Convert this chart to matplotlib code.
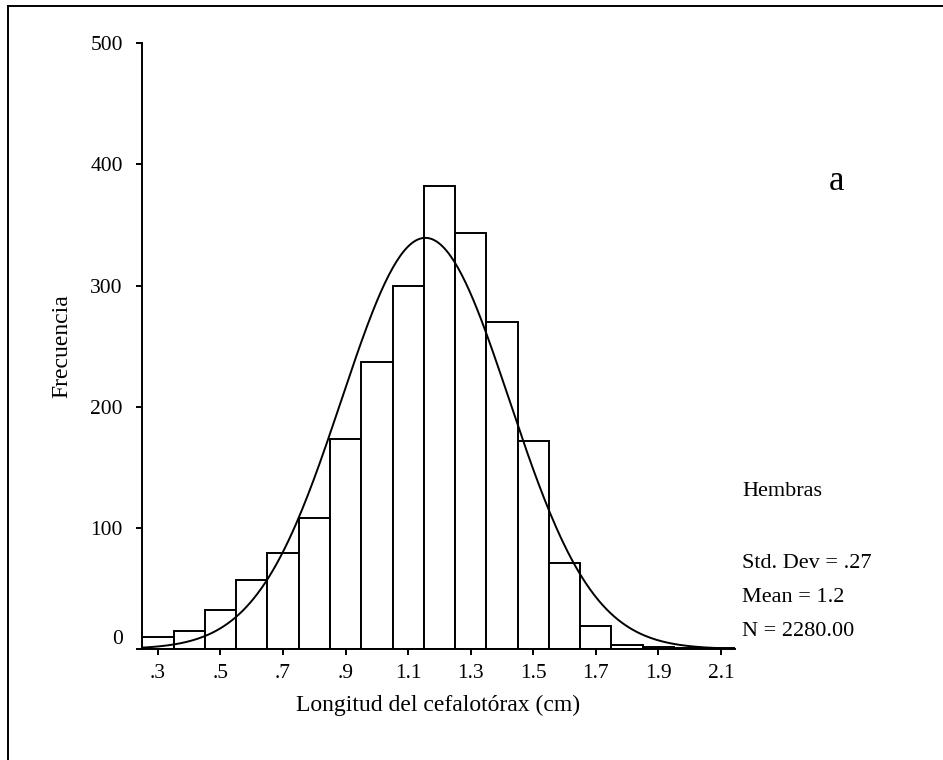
import numpy as np
import matplotlib.pyplot as plt
from matplotlib.lines import Line2D

plt.rcParams["font.family"] = ["Liberation Serif", "DejaVu Serif"]

# Histogram bins (class midpoints, cm) and counts
bin_centers = [0.3, 0.4, 0.5, 0.6, 0.7, 0.8, 0.9, 1.0, 1.1, 1.2,
               1.3, 1.4, 1.5, 1.6, 1.7, 1.8, 1.9, 2.0, 2.1]
counts = [10, 15, 32, 57, 79, 108, 173, 237, 300, 382,
          343, 270, 172, 71, 19, 3, 2, 1, 1]
bin_width = 0.1

# Summary statistics of the fitted normal curve
mean_len = 1.155
std_len = 0.268
n_obs = 2280

xtick_values = [0.3, 0.5, 0.7, 0.9, 1.1, 1.3, 1.5, 1.7, 1.9, 2.1]
xtick_labels = [".3", ".5", ".7", ".9", "1.1", "1.3", "1.5", "1.7", "1.9", "2.1"]
ytick_values = [0, 100, 200, 300, 400, 500]

W, H = 943, 760
fig = plt.figure(figsize=(W / 100, H / 100), dpi=100)
ax = fig.add_axes([142.3 / W, 1 - 649 / H, (735 - 142.3) / W, (649 - 43.3) / H])

lw = 1.4
ax.bar(bin_centers, counts, width=bin_width, facecolor="white",
       edgecolor="black", linewidth=lw, zorder=2)

# normal curve scaled to the histogram
xs = np.linspace(0.25, 2.09, 300)
ys = n_obs * bin_width / (std_len * np.sqrt(2 * np.pi)) * np.exp(-0.5 * ((xs - mean_len) / std_len) ** 2)
ax.plot(xs, ys, color="black", linewidth=lw, zorder=3)

ax.set_xlim(0.25, 2.145)
ax.set_ylim(0, 500)
ax.spines["top"].set_visible(False)
ax.spines["right"].set_visible(False)
ax.spines["left"].set_linewidth(lw)
ax.spines["bottom"].set_linewidth(lw)

ax.set_xticks(xtick_values)
ax.set_xticklabels(xtick_labels)
ax.set_yticks(ytick_values)
ax.tick_params(axis="both", direction="out", length=4, width=lw, labelsize=15.5, colors="black")
ax.tick_params(axis="x", pad=7)
ax.tick_params(axis="y", pad=10)
ax.get_yticklabels()[0].set_verticalalignment("bottom")

fig.text(62 / W, 1 - 346 / H, "Frecuencia", rotation=90, ha="center", va="center", fontsize=17)
fig.text(438 / W, 1 - 705 / H, "Longitud del cefalotórax (cm)", ha="center", va="center", fontsize=17)

fig.text(837 / W, 1 - 182 / H, "a", ha="center", va="center", fontsize=25)
fig.text(742 / W, 1 - 492 / H, "Hembras", ha="left", va="center", fontsize=16)
fig.text(742 / W, 1 - 563 / H, "Std. Dev = .27", ha="left", va="center", fontsize=16)
fig.text(742 / W, 1 - 597 / H, "Mean = 1.2", ha="left", va="center", fontsize=16)
fig.text(742 / W, 1 - 632 / H, "N = 2280.00", ha="left", va="center", fontsize=16)

# frame around the figure (left and top edges visible)
fig.add_artist(Line2D([8 / W, 8 / W], [0, 1 - 6 / H], transform=fig.transFigure, color="black", linewidth=1.4))
fig.add_artist(Line2D([8 / W, 1], [1 - 6 / H, 1 - 6 / H], transform=fig.transFigure, color="black", linewidth=1.4))

fig.savefig("out.png", dpi=100)
